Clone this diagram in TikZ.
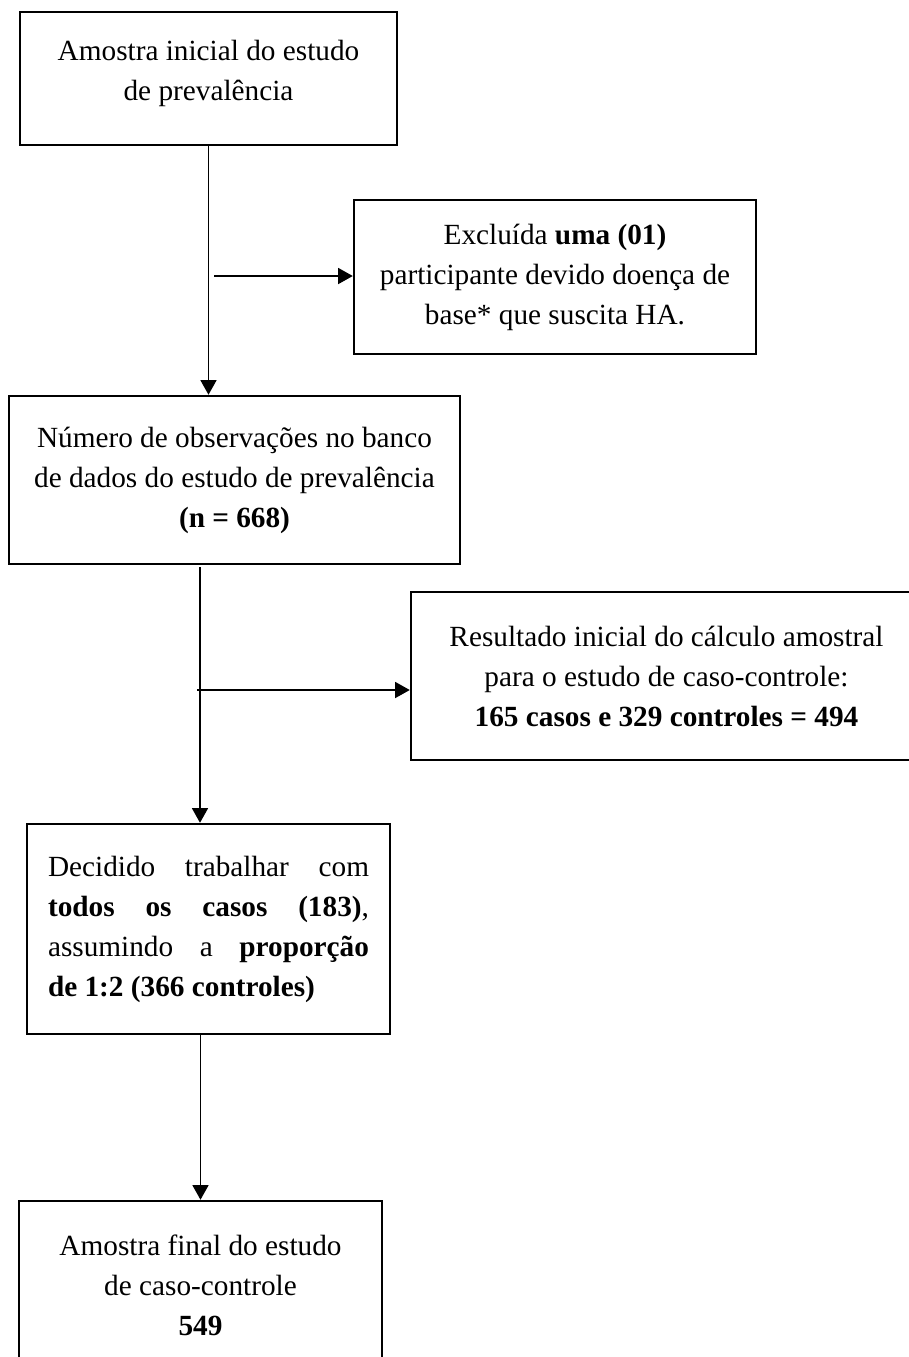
\documentclass[tikz,border=0pt]{standalone}
\usepackage{fontspec}
\setmainfont{Liberation Serif}
\usetikzlibrary{arrows.meta,positioning,calc}
\tikzset{box/.style={draw,line width=1pt,align=center,inner sep=0pt,
    font=\fontsize{12}{16.4}\selectfont},
  edge/.style={-{Triangle[length=6pt,width=6.5pt]},line width=0.8pt}}

\begin{document}
\begin{tikzpicture}[x=0.41pt,y=0.41pt]
  \useasboundingbox (0,0) rectangle (909,-1357);
  \node[box,minimum width=154.6pt,minimum height=54.5pt] (inicial) at (208.5,-78.5)
    {Amostra inicial do estudo\\de prevalência\\[-10pt]~};
  \node[box,minimum width=164.8pt,minimum height=63.1pt] (excluida) at (555,-277)
    {Excluída \textbf{uma (01)}\\participante devido doença de\\base* que suscita HA.};
  \node[box,minimum width=184.9pt,minimum height=68.9pt] (banco) at (234.5,-480)
    {Número de observações no banco\\de dados do estudo de prevalência\\\textbf{(n = 668)}};
  \node[box,minimum width=209.5pt,minimum height=68.9pt] (calculo) at (666.5,-676)
    {Resultado inicial do cálculo amostral\\para o estudo de caso-controle:\\\textbf{165 casos e 329 controles = 494}};
  \node[box,align=justify,text width=131.6pt,minimum width=148.8pt,minimum height=86.1pt]
    (decidido) at (208.5,-929)
    {Decidido trabalhar com\linebreak \textbf{todos os casos (183)},\linebreak
     assumindo a \textbf{proporção}\linebreak \textbf{de 1:2 (366 controles)}};
  \node[box,minimum width=148.8pt,minimum height=69.3pt] (final) at (200.5,-1285.5)
    {Amostra final do estudo\\de caso-controle\\\textbf{549}};
  % connectors
  \coordinate (s1) at (214,-276);
  \coordinate (t2) at (200,-567);
  \coordinate (s2) at (197,-690);
  \draw[edge] (inicial.south) -- (inicial.south |- banco.north);
  \draw[edge] (s1) -- (s1 -| excluida.west);
  \draw[edge] (t2) -- (t2 |- decidido.north);
  \draw[edge] (s2) -- (s2 -| calculo.west);
  \draw[edge] (final.north |- decidido.south) -- (final.north);
\end{tikzpicture}
\end{document}
